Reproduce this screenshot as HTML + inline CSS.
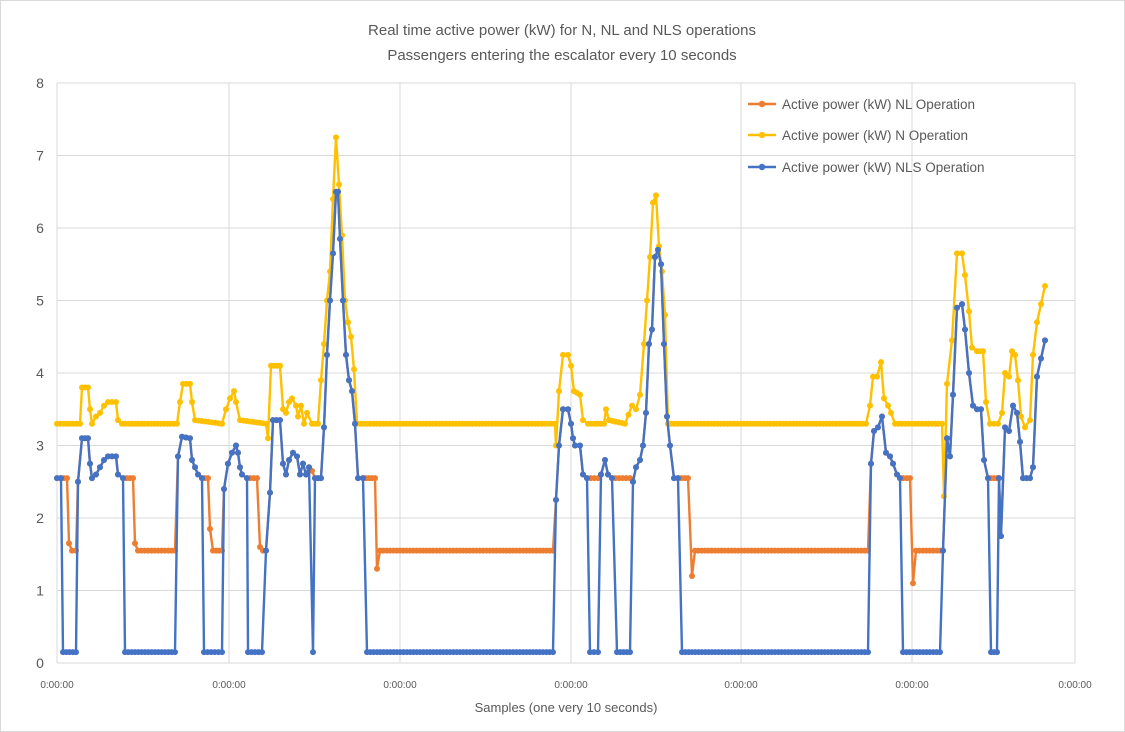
<!DOCTYPE html>
<html><head><meta charset="utf-8"><style>
body{margin:0;background:#fff}
svg{display:block;font-family:"Liberation Sans",sans-serif}
</style></head><body>
<svg id="c" width="1125" height="732" viewBox="0 0 1125 732">
<rect x="0.5" y="0.5" width="1124" height="731" fill="#fff" stroke="#d9d9d9"/>
<text x="562" y="35" text-anchor="middle" font-size="15" fill="#595959">Real time active power (kW) for N, NL and NLS operations</text>
<text x="562" y="60" text-anchor="middle" font-size="15" fill="#595959">Passengers entering the escalator every 10 seconds</text>
<g id="grid" stroke="#d9d9d9" stroke-width="1"></g>
<g id="labels" font-size="14" fill="#595959"></g>
<text x="566" y="712" text-anchor="middle" font-size="13" fill="#595959">Samples (one very 10 seconds)</text>
<g id="series"></g>
<g font-size="13.5" fill="#595959">
<line x1="748" y1="104" x2="776" y2="104" stroke="#ED7D31" stroke-width="2.4"/><circle cx="762" cy="104" r="3.2" fill="#ED7D31"/>
<text x="782" y="109">Active power (kW) NL Operation</text>
<line x1="748" y1="135" x2="776" y2="135" stroke="#FFC000" stroke-width="2.4"/><circle cx="762" cy="135" r="3.2" fill="#FFC000"/>
<text x="782" y="140">Active power (kW) N Operation</text>
<line x1="748" y1="167" x2="776" y2="167" stroke="#4472C4" stroke-width="2.4"/><circle cx="762" cy="167" r="3.2" fill="#4472C4"/>
<text x="782" y="172">Active power (kW) NLS Operation</text>
</g>
</svg>
<script>
const NS="http://www.w3.org/2000/svg";
const Y=v=>663-v*72.5;
const g=document.getElementById('grid'),lb=document.getElementById('labels');
function el(p,t,a,txt){const e=document.createElementNS(NS,t);for(const k in a)e.setAttribute(k,a[k]);if(txt!==undefined)e.textContent=txt;p.appendChild(e);return e;}
for(let i=0;i<=8;i++){el(g,'line',{x1:57,x2:1075,y1:Y(i),y2:Y(i)});el(lb,'text',{x:40,y:Y(i)+5,'text-anchor':'middle'},i);}
const xs=[57,229,400,571,741,912,1075];
xs.forEach(x=>{el(g,'line',{x1:x,x2:x,y1:Y(8),y2:Y(0)});el(lb,'text',{x:x,y:688,'text-anchor':'middle','font-size':'10'},'0:00:00');});
const blue=[[57,2.55],[61,2.55],[63,0.15],[76,0.15],[78,2.5],[82,3.1],[88,3.1],[90,2.75],[92,2.55],[96,2.6],[100,2.7],[104,2.8],[108,2.85],[116,2.85],[118,2.6],[123,2.55],[125,0.15],[175,0.15],[178,2.85],[182,3.12],[190,3.1],[192,2.8],[195,2.7],[198,2.6],[202,2.55],[204,0.15],[222,0.15],[224,2.4],[228,2.75],[232,2.9],[236,3.0],[238,2.9],[240,2.7],[242,2.6],[247,2.55],[248,0.15],[262,0.15],[266,1.55],[270,2.35],[273,3.35],[280,3.35],[283,2.75],[286,2.6],[289,2.8],[293,2.9],[297,2.85],[300,2.6],[303,2.75],[306,2.6],[309,2.7],[313,0.15],[315,2.55],[321,2.55],[324,3.25],[327,4.25],[330,5.0],[333,5.65],[336,6.5],[338,6.5],[340,5.85],[343,5.0],[346,4.25],[349,3.9],[352,3.75],[355,3.3],[358,2.55],[363,2.55],[367,0.15],[553,0.15],[556,2.25],[559,3.0],[563,3.5],[568,3.5],[571,3.3],[573,3.1],[575,3.0],[580,3.0],[583,2.6],[587,2.55],[590,0.15],[598,0.15],[601,2.6],[605,2.8],[608,2.6],[612,2.55],[617,0.15],[630,0.15],[633,2.5],[636,2.7],[640,2.8],[643,3.0],[646,3.45],[649,4.4],[652,4.6],[655,5.6],[658,5.7],[661,5.5],[664,4.4],[667,3.4],[670,3.0],[674,2.55],[678,2.55],[682,0.15],[868,0.15],[871,2.75],[874,3.2],[878,3.25],[882,3.4],[886,2.9],[890,2.85],[893,2.75],[897,2.6],[900,2.55],[903,0.15],[940,0.15],[943,1.55],[947,3.1],[950,2.85],[953,3.7],[957,4.9],[962,4.95],[965,4.6],[969,4.0],[973,3.55],[977,3.5],[981,3.5],[984,2.8],[988,2.55],[991,0.15],[997,0.15],[999,2.55],[1001,1.75],[1005,3.25],[1009,3.2],[1013,3.55],[1017,3.45],[1020,3.05],[1023,2.55],[1030,2.55],[1033,2.7],[1037,3.95],[1041,4.2],[1045,4.45]];
const B=(a,b)=>blue.filter(p=>p[0]>=a&&p[0]<=b);
const orange=[[57,2.55],[67,2.55],[69,1.65],[72,1.55],[76,1.55],...B(78,123),[133,2.55],[135,1.65],[138,1.55],[175,1.55],...B(178,202),[208,2.55],[210,1.85],[213,1.55],[222,1.55],...B(224,247),[257,2.55],[260,1.6],[263,1.55],[266,1.55],...B(270,309),[312,2.65],...B(315,363),[375,2.55],[377,1.3],[380,1.55],[553,1.55],...B(556,587),[598,2.55],...B(601,612),[630,2.55],...B(633,678),[688,2.55],[692,1.2],[695,1.55],[868,1.55],...B(871,900),[910,2.55],[913,1.1],[916,1.55],[940,1.55],...B(943,988),[997,2.55],...B(999,1045)];
const yellow=[[57,3.3],[80,3.3],[82,3.8],[88,3.8],[90,3.5],[92,3.3],[96,3.4],[100,3.45],[104,3.55],[108,3.6],[116,3.6],[118,3.35],[122,3.3],[177,3.3],[180,3.6],[183,3.85],[190,3.85],[192,3.6],[195,3.35],[222,3.3],[226,3.5],[230,3.65],[234,3.75],[236,3.6],[240,3.35],[266,3.3],[268,3.1],[271,4.1],[280,4.1],[283,3.5],[286,3.45],[289,3.6],[292,3.65],[296,3.55],[298,3.4],[301,3.55],[304,3.3],[307,3.45],[312,3.3],[318,3.3],[321,3.9],[324,4.4],[327,5.0],[330,5.4],[333,6.4],[336,7.25],[339,6.6],[342,5.9],[345,5.0],[348,4.7],[351,4.5],[354,4.05],[357,3.3],[555,3.3],[556,3.0],[559,3.75],[563,4.25],[568,4.25],[571,4.1],[574,3.75],[580,3.7],[583,3.35],[588,3.3],[604,3.3],[606,3.5],[609,3.35],[625,3.3],[632,3.55],[636,3.5],[640,3.7],[644,4.4],[647,5.0],[650,5.6],[653,6.35],[656,6.45],[659,5.75],[662,5.4],[665,4.8],[668,3.3],[866,3.3],[870,3.55],[873,3.95],[877,3.95],[881,4.15],[884,3.65],[888,3.55],[891,3.45],[895,3.3],[942,3.3],[944,2.3],[947,3.85],[952,4.45],[957,5.65],[962,5.65],[965,5.35],[969,4.85],[972,4.35],[977,4.3],[983,4.3],[986,3.6],[990,3.3],[998,3.3],[1002,3.45],[1005,4.0],[1009,3.95],[1012,4.3],[1015,4.25],[1018,3.9],[1021,3.4],[1025,3.25],[1030,3.35],[1033,4.25],[1037,4.7],[1041,4.95],[1045,5.2]];
function densify(a){const o=[];for(let i=0;i<a.length;i++){const p=a[i];o.push(p);if(i<a.length-1){const q=a[i+1],dx=q[0]-p[0];if(dx>5){const n=Math.round(dx/3.3);for(let k=1;k<n;k++){const t=k/n;o.push([p[0]+dx*t,p[1]+(q[1]-p[1])*t]);}}}}return o;}
const s=document.getElementById('series');
[[orange,'#ED7D31'],[yellow,'#FFC000'],[blue,'#4472C4']].forEach(([d,c])=>{
 const pts=densify(d);
 el(s,'polyline',{points:pts.map(p=>p[0].toFixed(1)+','+Y(p[1]).toFixed(1)).join(' '),fill:'none',stroke:c,'stroke-width':2.4,'stroke-linejoin':'round'});
 pts.forEach(p=>el(s,'circle',{cx:p[0].toFixed(1),cy:Y(p[1]).toFixed(1),r:3,fill:c}));
});
</script>
</body></html>
